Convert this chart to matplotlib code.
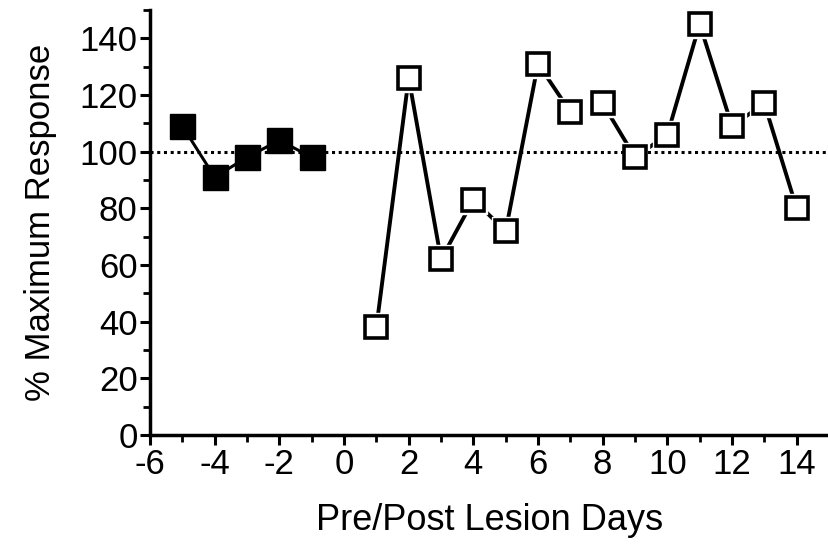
import matplotlib
matplotlib.use("Agg")
import matplotlib.pyplot as plt
from matplotlib.ticker import MultipleLocator

plt.rcParams['font.family'] = ['Liberation Sans', 'DejaVu Sans']
plt.rcParams['axes.unicode_minus'] = False

# Data
pre_days = [-5, -4, -3, -2, -1]
pre_resp = [109, 91, 98, 104, 98]

post_days = [1, 2, 3, 4, 5, 6, 7, 8, 9, 10, 11, 12, 13, 14]
post_resp = [38, 126, 62, 83, 72, 131, 114, 117, 98, 106, 145, 109, 117, 80]

# line is broken between day 7 and day 8
post_split = 7

fig = plt.figure(figsize=(8.29, 5.48), dpi=100)
ax = fig.add_axes([0.181, 0.206, 0.819, 0.776])

ax.axhline(100, color='black', linestyle=(0, (1, 1.2)), linewidth=2.2, zorder=3.5)

# pre-lesion (filled squares)
ax.plot(pre_days, pre_resp, color='black', linewidth=2.2, zorder=2)
ax.plot(pre_days, pre_resp, linestyle='none', marker='s', markersize=18,
        markerfacecolor='black', markeredgecolor='black', zorder=5)

# post-lesion (open squares), two connected runs
ax.plot(post_days[:post_split], post_resp[:post_split], color='black', linewidth=2.8, zorder=2)
ax.plot(post_days[post_split:], post_resp[post_split:], color='black', linewidth=2.8, zorder=2)
# white halo so the lines stop short of the boxes
ax.plot(post_days, post_resp, linestyle='none', marker='s', markersize=20,
        markerfacecolor='white', markeredgecolor='white', zorder=3)
ax.plot(post_days, post_resp, linestyle='none', marker='s', markersize=16,
        markerfacecolor='white', markeredgecolor='black', markeredgewidth=2.6, zorder=4)

ax.set_xlim(-6, 15)
ax.set_ylim(0, 150)
ax.xaxis.set_minor_locator(MultipleLocator(1))
ax.yaxis.set_minor_locator(MultipleLocator(10))
ax.set_xticks(range(-6, 15, 2))
ax.set_yticks(range(0, 141, 20))

ax.spines['top'].set_visible(False)
ax.spines['right'].set_visible(False)
ax.spines['left'].set_linewidth(2.5)
ax.spines['bottom'].set_linewidth(2.5)

ax.tick_params(which='major', direction='out', length=7, width=2.2, labelsize=25, pad=2)
ax.tick_params(which='minor', direction='out', length=5, width=2)

ax.set_xlabel("Pre/Post Lesion Days", fontsize=26, labelpad=16)
ax.set_ylabel("% Maximum Response", fontsize=25, labelpad=16)

fig.savefig("out.png", dpi=100)
